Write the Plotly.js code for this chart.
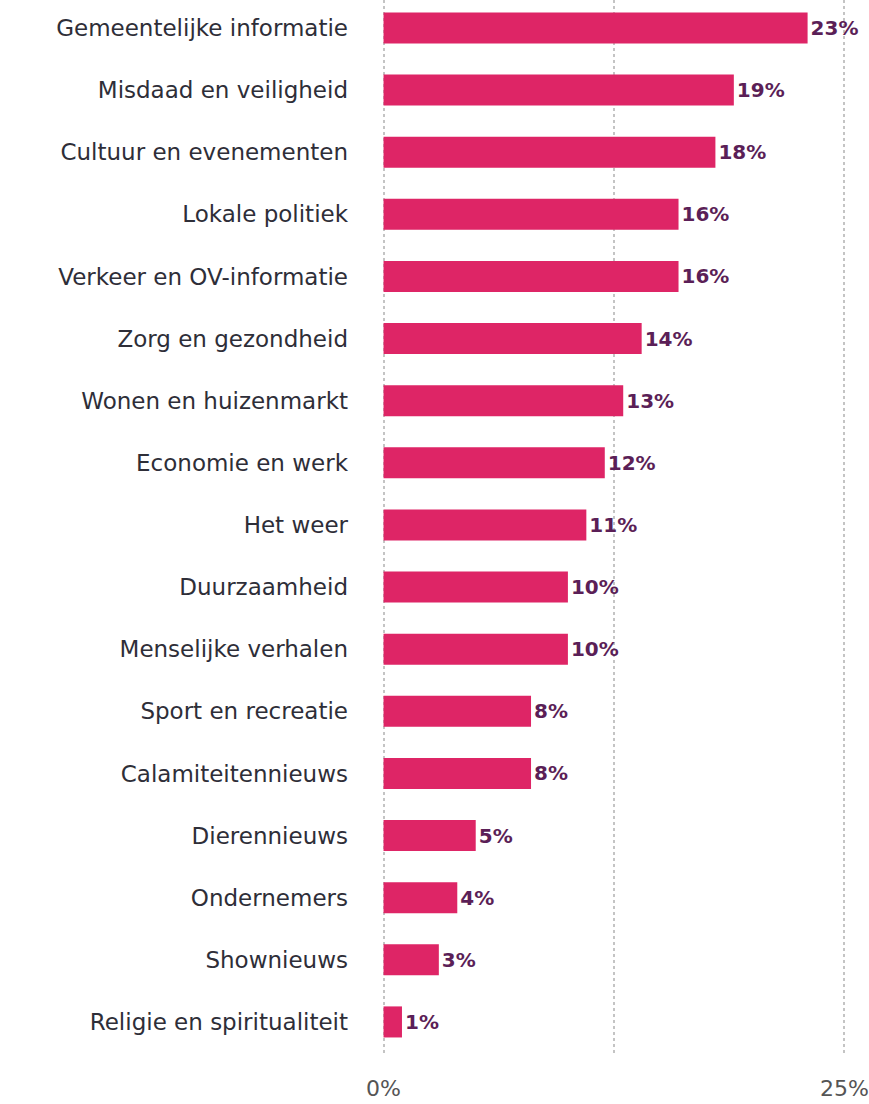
<!DOCTYPE html>
<html>
<head>
<meta charset="utf-8">
<script src="https://cdn.plot.ly/plotly-3.0.1.min.js"></script>
<style>
  html, body { margin: 0; padding: 0; background: #fff; }
  #chart { width: 869px; height: 1104px; }
</style>
</head>
<body>
<div id="chart"></div>
<script>
// onderwerpen en percentages
const categories = [
    'Gemeentelijke informatie',
    'Misdaad en veiligheid',
    'Cultuur en evenementen',
    'Lokale politiek',
    'Verkeer en OV-informatie',
    'Zorg en gezondheid',
    'Wonen en huizenmarkt',
    'Economie en werk',
    'Het weer',
    'Duurzaamheid',
    'Menselijke verhalen',
    'Sport en recreatie',
    'Calamiteitennieuws',
    'Dierennieuws',
    'Ondernemers',
    'Shownieuws',
    'Religie en spiritualiteit'
];
const values = [23, 19, 18, 16, 16, 14, 13, 12, 11, 10, 10, 8, 8, 5, 4, 3, 1];
const tickVals = [0, 12.5, 25];
const tickText = ['0%', '', '25%'];

const trace = {
    type: 'bar',
    orientation: 'h',
    y: categories,
    x: values,
    text: values.map(v => v + '%'),
    textposition: 'outside',
    cliponaxis: false,
    textfont: { family: 'DejaVu Sans', size: 20, color: '#5b1f57', weight: 700 },
    marker: { color: '#de2566' },
    hoverinfo: 'none'
};

const layout = {
    width: 869,
    height: 1104,
    // plot area padded a little past 0 and 25 so the edge grid lines are drawn
    margin: { l: 377.5, r: 18.5, t: 0, b: 51, pad: 0 },
    paper_bgcolor: '#fff',
    plot_bgcolor: '#fff',
    showlegend: false,
    bargap: 0.5,
    font: { family: 'DejaVu Sans', color: '#2e2e38' },
    xaxis: {
        range: [-0.3, 25.3],
        tickvals: tickVals,
        ticktext: tickText,
        showgrid: true,
        gridcolor: '#c4c4c4',
        gridwidth: 2,
        griddash: 'dot',
        zeroline: false,
        showline: false,
        ticks: '',
        ticklabelstandoff: 20,
        tickfont: { family: 'DejaVu Sans', size: 22, color: '#555' }
    },
    yaxis: {
        type: 'category',
        range: [16.5, -0.45],
        showgrid: false,
        zeroline: false,
        showline: false,
        ticks: '',
        ticklabelstandoff: 29,
        tickfont: { family: 'DejaVu Sans', size: 23, color: '#2e2e38' }
    }
};

Plotly.newPlot('chart', [trace], layout, { staticPlot: true });
</script>
</body>
</html>
